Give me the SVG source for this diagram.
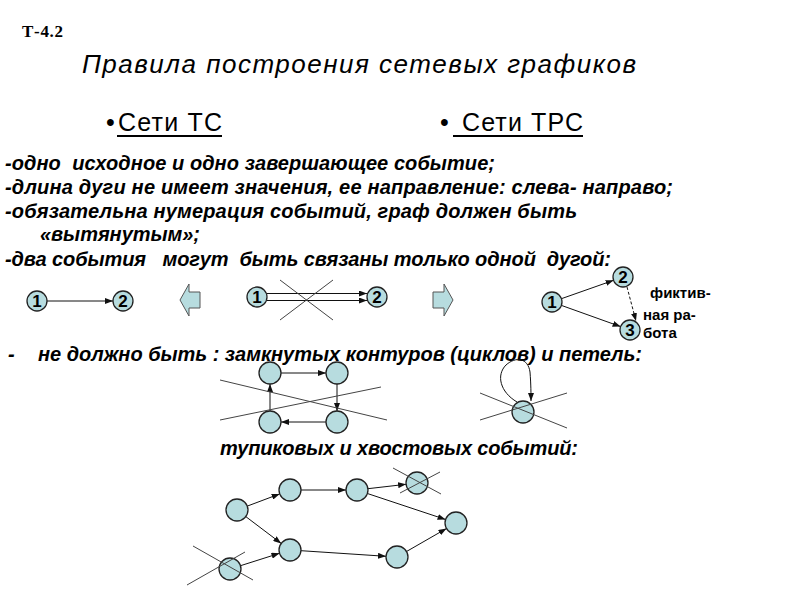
<svg xmlns="http://www.w3.org/2000/svg" width="800" height="600" viewBox="0 0 800 600">
<defs>
<marker id="ah" viewBox="0 0 8 6" refX="8" refY="3" markerWidth="8" markerHeight="6" orient="auto" markerUnits="userSpaceOnUse"><path d="M0,0 L8,3 L0,6 z" fill="#111"/></marker>
<style>
.s{font-family:"Liberation Sans",Arial,sans-serif;fill:#000}
.bi{font-weight:bold;font-style:italic;font-size:20px;white-space:pre}
.n circle{fill:#b7dcdf;stroke:#222;stroke-width:1.3}
.num{font-family:"Liberation Sans",Arial,sans-serif;font-weight:bold;font-size:17px;text-anchor:middle}
.e{stroke:#111;stroke-width:1;fill:none;marker-end:url(#ah)}
.x{stroke:#444;stroke-width:1}
.blk{fill:#b7dcdf;stroke:#555;stroke-width:1}
</style>
</defs>
<rect width="800" height="600" fill="#fff"/>

<g id="texts">
<text x="22" y="37" font-family="Liberation Serif,serif" font-size="17" font-weight="bold" textLength="41">Т-4.2</text>
<text class="s" x="82" y="73" font-size="26" font-style="italic" textLength="554">Правила построения сетевых графиков</text>
<text class="s" x="106" y="131" font-size="25">•</text>
<text class="s" x="118" y="131" font-size="25" textLength="104">Сети ТС</text>
<line x1="117" y1="136" x2="222" y2="136" stroke="#000" stroke-width="1.8"/>
<text class="s" x="440" y="131" font-size="25">•</text>
<text class="s" x="462" y="131" font-size="25" textLength="121">Сети ТРС</text>
<line x1="453" y1="136" x2="583" y2="136" stroke="#000" stroke-width="1.8"/>

<text class="s bi" x="5" y="170" textLength="490" xml:space="preserve">-одно  исходное и одно завершающее событие;</text>
<text class="s bi" x="5" y="194" textLength="668">-длина дуги не имеет значения, ее направление: слева- направо;</text>
<text class="s bi" x="5" y="218" textLength="572">-обязательна нумерация событий, граф должен быть</text>
<text class="s bi" x="40" y="241" textLength="160">«вытянутым»;</text>
<text class="s bi" x="5" y="266" textLength="606" xml:space="preserve">-два события   могут  быть связаны только одной  дугой:</text>
<text class="s bi" x="8" y="361">-</text>
<text class="s bi" x="38" y="361" textLength="604">не должно быть : замкнутых контуров (циклов) и петель:</text>
<text class="s bi" x="220" y="455" textLength="358">тупиковых и хвостовых событий:</text>
</g>

<g id="connectors">
<line class="e" x1="47" y1="301" x2="113" y2="301"/>
<line class="e" x1="267" y1="293.5" x2="367" y2="293.5"/>
<line class="e" x1="267" y1="300.5" x2="367" y2="300.5"/>
<line class="e" x1="561.4" y1="298.7" x2="613.6" y2="280.3"/>
<line class="e" x1="561.4" y1="305.4" x2="620.6" y2="326.6"/>
<line class="e" x1="627" y1="287" x2="636" y2="321" stroke-dasharray="3,2"/>

<line class="e" x1="281" y1="373" x2="326" y2="373"/>
<line class="e" x1="337" y1="384" x2="337" y2="411"/>
<line class="e" x1="326" y1="422" x2="281" y2="422"/>
<line class="e" x1="270" y1="411" x2="270" y2="384"/>
<path class="e" d="M517,402 C500,392 496,375 506,365 C516,356 528,358 530,372 C531,385 531,394 531,401"/>

<line class="e" x1="247.3" y1="506.1" x2="279.7" y2="493.9"/>
<line class="e" x1="301" y1="490" x2="346" y2="490"/>
<line class="e" x1="367.9" y1="488.7" x2="406.1" y2="484.3"/>
<line class="e" x1="367.4" y1="493.5" x2="445.6" y2="519.5"/>
<line class="e" x1="245.8" y1="516.6" x2="281.2" y2="543.4"/>
<line class="e" x1="240.5" y1="565.7" x2="279.5" y2="553.3"/>
<line class="e" x1="301" y1="550.7" x2="386" y2="556.3"/>
<line class="e" x1="406.5" y1="551.5" x2="446.5" y2="528.5"/>
</g>

<g id="arrows">
<polygon class="blk" points="180,300 189,284 189,292 200,292 200,308 189,308 189,316"/>
<polygon class="blk" points="453,300 444,284 444,292 433,292 433,308 444,308 444,316"/>
</g>

<g id="g1">
<g id="n1a" class="n"><circle cx="37" cy="301" r="10"/><text class="num" x="37" y="307">1</text></g>
<g id="n2a" class="n"><circle cx="123" cy="301" r="10"/><text class="num" x="123" y="307">2</text></g>
</g>
<g id="g2">
<g id="n1b" class="n"><circle cx="257" cy="297" r="10"/><text class="num" x="257" y="303">1</text></g>
<g id="n2b" class="n"><circle cx="377" cy="297" r="10"/><text class="num" x="377" y="303">2</text></g>
<line class="x" x1="280" y1="280" x2="333" y2="320"/>
<line class="x" x1="333" y1="280" x2="280" y2="320"/>
</g>
<g id="g3">
<g id="n1c" class="n"><circle cx="552" cy="302" r="10"/><text class="num" x="552" y="308">1</text></g>
<g id="n2c" class="n"><circle cx="623" cy="277" r="10"/><text class="num" x="623" y="283">2</text></g>
<g id="n3c" class="n"><circle cx="630" cy="330" r="10"/><text class="num" x="630" y="336">3</text></g>
<text class="s" x="650" y="298" font-size="15" font-weight="bold">фиктив-</text>
<text class="s" x="643" y="320" font-size="15" font-weight="bold">ная ра-</text>
<text class="s" x="643" y="338" font-size="15" font-weight="bold">бота</text>
</g>

<g id="cycle">
<g id="c1" class="n"><circle cx="270" cy="373" r="11"/></g>
<g id="c2" class="n"><circle cx="337" cy="373" r="11"/></g>
<g id="c3" class="n"><circle cx="270" cy="422" r="11"/></g>
<g id="c4" class="n"><circle cx="337" cy="422" r="11"/></g>
<line class="x" x1="220" y1="380" x2="387" y2="420"/>
<line class="x" x1="220" y1="420" x2="381" y2="387"/>
</g>
<g id="loop">
<g id="l1" class="n"><circle cx="523" cy="412" r="11"/></g>
<line class="x" x1="480" y1="393" x2="567" y2="428"/>
<line class="x" x1="480" y1="420" x2="567" y2="393"/>
</g>

<g id="dead">
<g id="dA" class="n"><circle cx="237" cy="510" r="11"/></g>
<g id="dB" class="n"><circle cx="290" cy="490" r="11"/></g>
<g id="dC" class="n"><circle cx="357" cy="490" r="11"/></g>
<g id="dD" class="n"><circle cx="417" cy="483" r="11"/></g>
<g id="dE" class="n"><circle cx="456" cy="523" r="11"/></g>
<g id="dF" class="n"><circle cx="290" cy="550" r="11"/></g>
<g id="dG" class="n"><circle cx="397" cy="557" r="11"/></g>
<g id="dH" class="n"><circle cx="230" cy="569" r="11"/></g>
<line class="x" x1="393" y1="468" x2="441" y2="494"/>
<line class="x" x1="400" y1="493" x2="440" y2="472"/>
<line class="x" x1="193" y1="546" x2="253" y2="580"/>
<line class="x" x1="187" y1="585" x2="245" y2="552"/>
</g>
</svg>
